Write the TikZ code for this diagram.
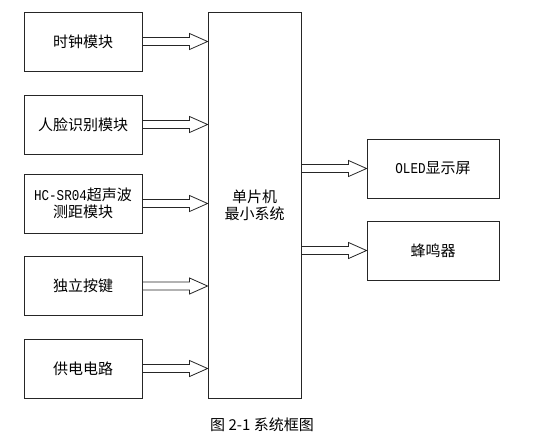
\documentclass[tikz,border=0pt]{standalone}
\usepackage{fontspec}
\newfontfamily\cjk{Noto Sans CJK SC}
\newfontfamily\lat[FakeStretch=0.84]{Liberation Mono}
\usetikzlibrary{calc}
\newcommand\fatarrow[2]{%
  \coordinate (fa-s) at #1;
  \coordinate (fa-t) at #2;
  \draw[fat] ($(fa-s)+(0,-4)$) -- ($(fa-t)+(-18,-4)$) -- ($(fa-t)+(-18,-8)$)
    -- (fa-t) -- ($(fa-t)+(-18,8)$) -- ($(fa-t)+(-18,4)$) -- ($(fa-s)+(0,4)$) -- cycle;}
\begin{document}
\begin{tikzpicture}[x=1pt,y=-1pt,
  box/.style={draw=black!85, line width=0.9pt, minimum width=118pt, minimum height=59pt,
    inner sep=0pt, align=center, font=\cjk\fontsize{15}{17}\selectfont},
  fat/.style={draw=black!85, line width=0.8pt, fill=white}]
\useasboundingbox (0,0) rectangle (534,440);
\node[box] (b1) at (83,41.5) {时钟模块};
\node[box] (b2) at (83,124.5) {人脸识别模块};
\node[box] (b3) at (83,203.5) {{\lat\fontsize{15}{17}\selectfont HC-SR04}超声波\\测距模块};
\node[box] (b4) at (83,286) {独立按键};
\node[box] (b5) at (83,368.5) {供电电路};
\node[box, minimum width=93pt, minimum height=386pt] (mcu) at (254.5,205) {单片机\\最小系统};
\node[box, minimum width=132pt] (oled) at (433,168.5) {{\lat\fontsize{15}{17}\selectfont OLED}显示屏};
\node[box, minimum width=132pt] (buzz) at (433,250.5) {蜂鸣器};
\foreach \b in {b1,b2,b3,b4,b5}{
  \fatarrow{(\b.east)}{(\b.east -| mcu.west)}
}
\fatarrow{(mcu.east |- oled.west)}{(oled.west)}
\fatarrow{(mcu.east |- buzz.west)}{(buzz.west)}
\node[font=\cjk\fontsize{15}{17}\selectfont] (cap) at (262,425) {图 2-1 系统框图};
\end{tikzpicture}
\end{document}
